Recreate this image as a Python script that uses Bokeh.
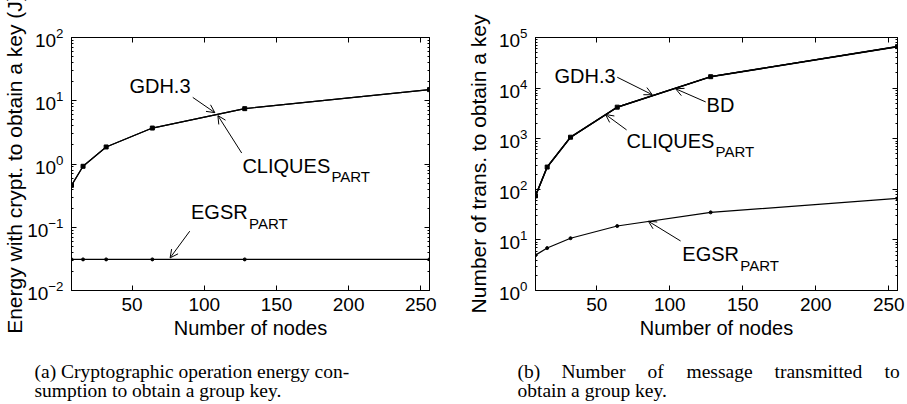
from bokeh.plotting import figure
from bokeh.models import (LogAxis, LinearAxis, FixedTicker, Label, Arrow, OpenHead,
                          CustomJSTickFormatter, Range1d)
from bokeh.layouts import row, column
from bokeh.embed import file_html
from bokeh.resources import INLINE

# ---------------- data ----------------
nodes = [8, 16, 32, 64, 128, 256]

energy_gdh3 = [0.46, 0.92, 1.86, 3.7, 7.5, 15.0]
energy_cliques_part = [0.46, 0.92, 1.86, 3.7, 7.5, 15.0]
energy_egsr_part = [0.031, 0.031, 0.031, 0.031, 0.031, 0.031]

trans_gdh3 = [74, 275, 1070, 4200, 16800, 66000]
trans_bd = [74, 275, 1070, 4200, 16800, 66000]
trans_cliques_part = [74, 275, 1070, 4200, 16800, 66000]
trans_egsr_part = [5.0, 6.9, 10.8, 18.8, 35.0, 66.0]

x_ticks = [50, 100, 150, 200, 250]
left_decades = [-2, -1, 0, 1, 2]
right_decades = [0, 1, 2, 3, 4, 5]

x_label = "Number of nodes"
left_y_label = "Energy with crypt. to obtain a key (J)"
right_y_label = "Number of trans. to obtain a key"
caption_a = ["(a) Cryptographic operation energy con-", "sumption to obtain a group key."]
caption_b1_words = ["(b)", "Number", "of", "message", "transmitted", "to"]
caption_b2 = "obtain a group key."

SANS = "Liberation Sans"
SERIF = "Liberation Serif"
BLACK = "#000000"
CAP_SIZE = "19.5px"


def style_fig(p, decades, ylab, ylab_standoff):
    majors = [10.0 ** d for d in decades]
    minors = [m * 10.0 ** d for d in decades[:-1] for m in range(2, 10)]
    p.grid.visible = False
    p.outline_line_color = BLACK
    p.outline_line_width = 1
    p.background_fill_color = "white"
    p.border_fill_color = "white"

    xa = p.xaxis[0]
    xa.ticker = FixedTicker(ticks=x_ticks)
    ya = p.yaxis[0]
    ya.ticker = FixedTicker(ticks=majors, minor_ticks=minors)
    for ax in (xa, ya):
        ax.axis_line_color = BLACK
        ax.major_tick_line_color = BLACK
        ax.major_tick_in = 5
        ax.major_tick_out = 0
        ax.minor_tick_in = 2
        ax.minor_tick_out = 0
        ax.major_label_text_font = SANS
        ax.major_label_text_font_size = "19px"
        ax.major_label_text_color = BLACK
        ax.axis_label_text_font = SANS
        ax.axis_label_text_font_style = "normal"
        ax.axis_label_text_color = BLACK
    xa.major_label_standoff = 7
    ya.major_label_standoff = 8
    xa.minor_tick_line_color = None
    xa.axis_label = x_label
    xa.axis_label_text_font_size = "20px"
    xa.axis_label_standoff = 3
    ya.axis_label = ylab
    ya.axis_label_text_font_size = "21px"
    ya.axis_label_standoff = ylab_standoff

    top = LinearAxis(ticker=FixedTicker(ticks=x_ticks), major_tick_in=5, major_tick_out=0,
                     minor_tick_line_color=None, major_label_text_font_size="1px",
                     major_label_text_color=None,
                     formatter=CustomJSTickFormatter(code="return ' ';"),
                     major_label_standoff=0, axis_line_color=BLACK)
    right = LogAxis(ticker=FixedTicker(ticks=majors, minor_ticks=minors), major_tick_in=5,
                    major_tick_out=0, minor_tick_in=2, minor_tick_out=0,
                    major_label_text_font_size="1px", major_label_text_color=None,
                    formatter=CustomJSTickFormatter(code="return ' ';"),
                    major_label_standoff=0, axis_line_color=BLACK)
    p.add_layout(top, "above")
    p.add_layout(right, "right")


def text(p, x, y, t, size="20px", font=SANS, align="left", baseline="middle", xo=0, yo=0):
    p.add_layout(Label(x=x, y=y, text=t, text_font=font, text_font_size=size,
                       text_color=BLACK, text_align=align, text_baseline=baseline,
                       x_offset=xo, y_offset=yo))


def arrow(p, xs, ys, xe, ye):
    p.add_layout(Arrow(x_start=xs, y_start=ys, x_end=xe, y_end=ye, line_color=BLACK,
                       line_width=1, end=OpenHead(size=8, line_color=BLACK, line_width=1)))


def labelled(p, x, y, main, sub):
    text(p, x, y, main)
    if sub:
        w = {"CLIQUES": 89, "EGSR": 58}[main]
        text(p, x, y, sub, size="15px", xo=w, yo=-11)


def caption_fig(width):
    c = figure(width=width, height=54, x_range=Range1d(0, width), y_range=Range1d(54, 0),
               output_backend="svg", toolbar_location=None, min_border=0,
               x_axis_location=None, y_axis_location=None)
    c.grid.visible = False
    c.outline_line_color = None
    c.background_fill_color = "white"
    c.border_fill_color = "white"
    return c


# ---------------- left figure ----------------
p1 = figure(width=453, height=350, x_range=(8, 256), y_range=(1e-2, 1e2), y_axis_type="log",
            output_backend="svg", toolbar_location=None,
            min_border_left=69, min_border_right=24, min_border_top=37, min_border_bottom=57)
style_fig(p1, left_decades, left_y_label, -2)
p1.line(nodes, energy_gdh3, line_color=BLACK, line_width=1.2)
p1.line(nodes, energy_cliques_part, line_color=BLACK, line_width=1.2)
p1.scatter(nodes, energy_gdh3, marker="square", size=4, color=BLACK)
p1.line(nodes, energy_egsr_part, line_color=BLACK, line_width=1.2)
p1.scatter(nodes, energy_egsr_part, marker="circle", size=3, color=BLACK)

labelled(p1, 48.1, 17.2, "GDH.3", None)
arrow(p1, 92.0, 11.3, 107.3, 6.49)
labelled(p1, 126.4, 0.93, "CLIQUES", "PART")
arrow(p1, 125.9, 1.49, 109.4, 5.83)
labelled(p1, 90.8, 0.1715, "EGSR", "PART")
arrow(p1, 89.9, 0.0866, 76.3, 0.0328)

# ---------------- right figure ----------------
p2 = figure(width=453, height=350, x_range=(8, 256), y_range=(1, 1e5), y_axis_type="log",
            output_backend="svg", toolbar_location=None,
            min_border_left=82, min_border_right=9, min_border_top=34, min_border_bottom=60)
style_fig(p2, right_decades, right_y_label, 6)
p2.line(nodes, trans_gdh3, line_color=BLACK, line_width=1.6)
p2.line(nodes, trans_bd, line_color=BLACK, line_width=1.2)
p2.line(nodes, trans_cliques_part, line_color=BLACK, line_width=1.2)
p2.scatter(nodes, trans_gdh3, marker="square", size=4, color=BLACK)
p2.line(nodes, trans_egsr_part, line_color=BLACK, line_width=1.2)
p2.scatter(nodes, trans_egsr_part, marker="circle", size=3, color=BLACK)

labelled(p2, 21.0, 17150, "GDH.3", None)
arrow(p2, 64.0, 16400, 88.0, 7400)
labelled(p2, 125.2, 4720, "BD", None)
arrow(p2, 124.6, 5330, 104.0, 9690)
labelled(p2, 70.4, 910, "CLIQUES", "PART")
arrow(p2, 70.4, 1493, 56.0, 3010)
labelled(p2, 108.6, 5.16, "EGSR", "PART")
arrow(p2, 107.4, 9.52, 85.3, 23.4)

# ---------------- captions ----------------
c1 = caption_fig(453)
text(c1, 34, 21, caption_a[0], size=CAP_SIZE, font=SERIF, baseline="alphabetic")
text(c1, 34, 40, caption_a[1], size=CAP_SIZE, font=SERIF, baseline="alphabetic")

c2 = caption_fig(453)
b_x = [64, 108, 194, 233, 321, 431]
for wx, word in zip(b_x, caption_b1_words):
    text(c2, wx, 21, word, size=CAP_SIZE, font=SERIF, baseline="alphabetic")
text(c2, 64, 40, caption_b2, size=CAP_SIZE, font=SERIF, baseline="alphabetic")

layout = column(row(p1, p2), row(c1, c2))
open("out.html", "w").write(file_html(layout, INLINE))
